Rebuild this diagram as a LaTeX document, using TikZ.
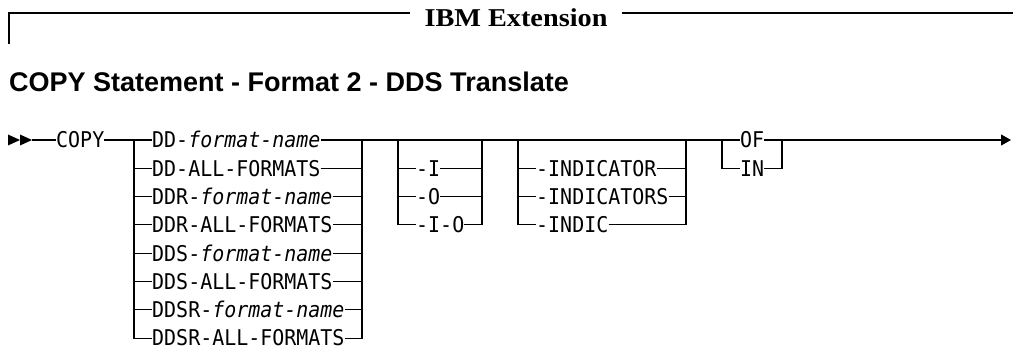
\documentclass[tikz,border=0pt]{standalone}
\usepackage{fontspec}
\newfontfamily\synfont[FakeStretch=0.92]{DejaVu Sans Mono}
\newfontfamily\headfont{Liberation Sans}
\newfontfamily\extfont[FakeStretch=1.1]{Liberation Serif}
\usetikzlibrary{positioning,calc,arrows.meta}

\tikzset{
  rail/.style={line width=1.1pt},
  kw/.style={font={\synfont\fontsize{21.7pt}{22pt}\selectfont}, inner sep=0pt,
    text height=15.8pt, text depth=0pt, anchor=west},
  extlabel/.style={font={\extfont\bfseries\fontsize{25.7pt}{26pt}\selectfont},
    inner xsep=14pt, inner ysep=0pt, text height=28pt, text depth=0pt},
  heading/.style={font={\headfont\bfseries\fontsize{27pt}{27pt}\selectfont},
    inner sep=0pt, anchor=base west}
}

\begin{document}
\begin{tikzpicture}[x=1pt, y=-1pt]
  \useasboundingbox (0,0) rectangle (1013,352);

  % IBM Extension bar
  \node[extlabel] (ext) at (516,13) {IBM Extension};
  \coordinate (barleg) at (9,44);
  \coordinate (barcorner) at (9,13);
  \coordinate (barend) at (1013,13);
  \draw[rail] (barleg) -- (barcorner) -- (ext.west);
  \draw[rail] (ext.east) -- (barend);

  \node[heading] (title) at (9,92) {COPY Statement - Format 2 - DDS Translate};

  % start of statement
  \coordinate (start) at (8,140);
  \coordinate (entry) at (32,140);
  \fill (start) ++(0,-5.5) -- ++(12,5.5) -- ++(-12,5.5) -- cycle;
  \fill (start) ++(12,-5.5) -- ++(12,5.5) -- ++(-12,5.5) -- cycle;
  \node[kw] (copy) at (56,140) {COPY};
  \draw[rail] (entry) -- (copy.west);

  % DD / DDR / DDS / DDSR choices
  \foreach \n/\t [count=\i from 0] in {
      dd1/DD-\textit{format-name}, dd2/DD-ALL-FORMATS,
      dd3/DDR-\textit{format-name}, dd4/DDR-ALL-FORMATS,
      dd5/DDS-\textit{format-name}, dd6/DDS-ALL-FORMATS,
      dd7/DDSR-\textit{format-name}, dd8/DDSR-ALL-FORMATS}
    \node[kw] (\n) at (152,140+28.3*\i) {\t};
  \coordinate (ddin) at (134,140);
  \coordinate (ddout) at (362,140);
  \draw[rail] (copy.east) -- (dd1.west);
  \draw[rail] (dd1.east) -- (ddout);
  \draw[rail] (ddin) |- (dd8.west);
  \draw[rail] (dd8.east) -| (ddout);
  \foreach \n in {dd2,dd3,dd4,dd5,dd6,dd7} {
    \draw[rail] (ddin |- \n.west) -- (\n.west);
    \draw[rail] (\n.east) -- (ddout |- \n.east);
  }

  % optional -I / -O / -I-O
  \node[kw] (io1) at (416,168.3) {-I};
  \node[kw] (io2) at (416,196.6) {-O};
  \node[kw] (io3) at (416,224.9) {-I-O};
  \coordinate (ioin) at (398,140);
  \coordinate (ioout) at (482,140);
  \draw[rail] (ddout) -- (ioin) -- (ioout);
  \draw[rail] (ioin) |- (io3.west);
  \draw[rail] (io3.east) -| (ioout);
  \foreach \n in {io1,io2} {
    \draw[rail] (ioin |- \n.west) -- (\n.west);
    \draw[rail] (\n.east) -- (ioout |- \n.east);
  }

  % optional -INDICATOR forms
  \node[kw] (ind1) at (536,168.3) {-INDICATOR};
  \node[kw] (ind2) at (536,196.6) {-INDICATORS};
  \node[kw] (ind3) at (536,224.9) {-INDIC};
  \coordinate (indin) at (518,140);
  \coordinate (indout) at (686,140);
  \draw[rail] (ioout) -- (indin) -- (indout);
  \draw[rail] (indin) |- (ind3.west);
  \draw[rail] (ind3.east) -| (indout);
  \foreach \n in {ind1,ind2} {
    \draw[rail] (indin |- \n.west) -- (\n.west);
    \draw[rail] (\n.east) -- (indout |- \n.east);
  }

  % OF or IN
  \node[kw] (of) at (740,140) {OF};
  \node[kw] (in) at (740,168.3) {IN};
  \coordinate (ofin) at (722,140);
  \coordinate (ofout) at (782,140);
  \coordinate (stop) at (1011,140);
  \draw[rail] (indout) -- (of.west);
  \draw[rail] (ofin) |- (in.west);
  \draw[rail] (in.east) -| (ofout);
  \draw[rail, -{Triangle[length=10pt, width=11pt]}] (of.east) -- (stop);
\end{tikzpicture}
\end{document}
